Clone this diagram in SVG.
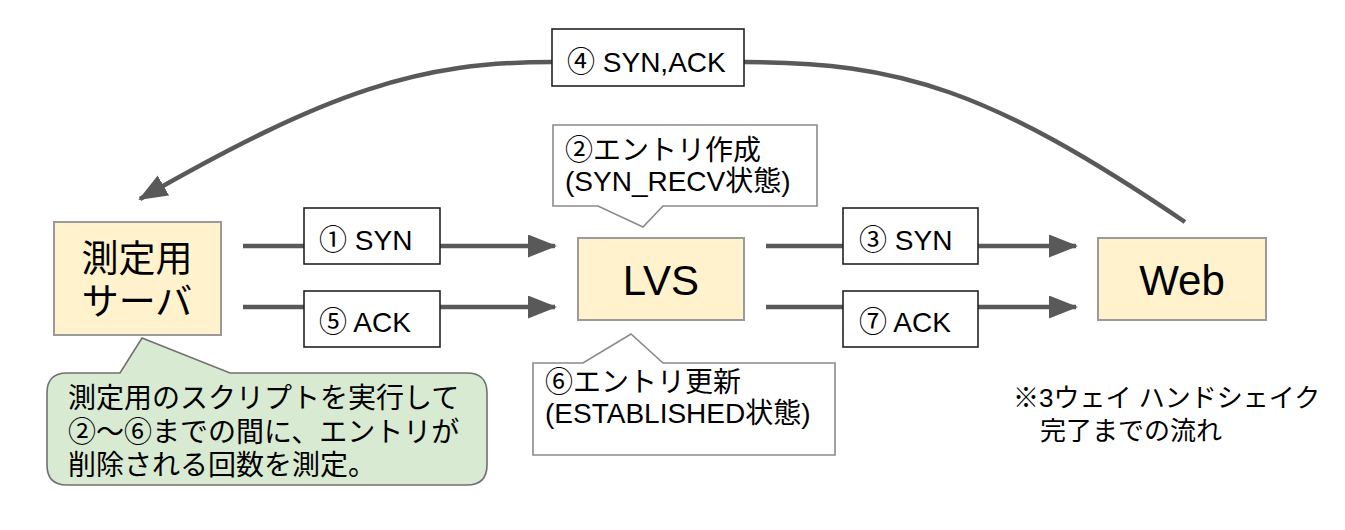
<svg xmlns="http://www.w3.org/2000/svg" width="1345" height="530" viewBox="0 0 1345 530">
<style>
text { font-family: "Liberation Sans", "Noto Sans CJK JP", sans-serif; fill: #000; }
.node { fill: #fff2cc; stroke: #9a9a9a; stroke-width: 2; }
.lbl { fill: #fff; stroke: #222; stroke-width: 1.6; }
.call { fill: #fff; stroke: #8a8a8a; stroke-width: 1.6; }
.green { fill: #d9ead3; stroke: #707070; stroke-width: 1.6; }
.conn { fill: none; stroke: #595959; stroke-width: 4.5; }
.t28 { font-size: 28px; }
.t26 { font-size: 26px; }
</style>
<defs>
<marker id="ah" markerUnits="userSpaceOnUse" markerWidth="30" markerHeight="24" refX="27" refY="11.5" orient="auto">
<path d="M0,0 L29,11.5 L0,23 z" fill="#595959"/>
</marker>
</defs>
<g id="connectors">
<path class="conn" d="M243,246 H555" marker-end="url(#ah)"/>
<path class="conn" d="M243,307 H555" marker-end="url(#ah)"/>
<path class="conn" d="M766,246 H1076" marker-end="url(#ah)"/>
<path class="conn" d="M766,307 H1076" marker-end="url(#ah)"/>
<path class="conn" d="M1185,222 C990,90 900,62 744,62"/>
<path class="conn" d="M552,62 C420,62 330,90 140,199" marker-end="url(#ah)"/>
</g>
<g id="label-4">
<rect class="lbl" x="552" y="29" width="192" height="57"/>
<text class="t28" x="567" y="72">④ SYN,ACK</text>
</g>
<g id="label-1">
<rect class="lbl" x="304" y="208" width="136" height="56"/>
<text class="t28" x="319" y="250">① SYN</text>
</g>
<g id="label-5">
<rect class="lbl" x="304" y="291" width="136" height="56"/>
<text class="t28" x="319" y="332">⑤ ACK</text>
</g>
<g id="label-3">
<rect class="lbl" x="843" y="208" width="135" height="56"/>
<text class="t28" x="859" y="250">③ SYN</text>
</g>
<g id="label-7">
<rect class="lbl" x="843" y="291" width="135" height="56"/>
<text class="t28" x="859" y="332">⑦ ACK</text>
</g>
<g id="server">
<rect class="node" x="54" y="222" width="167" height="113"/>
<text x="137" y="272" font-size="37" text-anchor="middle">測定用</text>
<text x="137" y="315" font-size="37" text-anchor="middle">サーバ</text>
</g>
<g id="lvs">
<rect class="node" x="578" y="238" width="166" height="82"/>
<text x="661" y="295" font-size="42" text-anchor="middle">LVS</text>
</g>
<g id="web">
<rect class="node" x="1098" y="238" width="168" height="82"/>
<text x="1182" y="295" font-size="42" text-anchor="middle">Web</text>
</g>
<g id="callout-2">
<path class="call" d="M553,125 H817 V206 H663 L643,227 L598,206 H553 Z"/>
<text class="t28" x="565" y="160">②エントリ作成</text>
<text class="t28" x="565" y="191">(SYN_RECV状態)</text>
</g>
<g id="callout-6">
<path class="call" d="M533,363 H583 L631,334 L663,363 H835 V455 H533 Z"/>
<text class="t28" x="545" y="392">⑥エントリ更新</text>
<text class="t28" x="545" y="423">(ESTABLISHED状態)</text>
</g>
<g id="callout-script">
<path class="green" d="M67,373 H120 L142,338 L230,373 H467 Q487,373 487,393 V465 Q487,485 467,485 H67 Q47,485 47,465 V393 Q47,373 67,373 Z"/>
<text class="t28" x="68" y="408">測定用のスクリプトを実行して</text>
<text class="t28" x="68" y="442">②〜⑥までの間に、エントリが</text>
<text class="t28" x="68" y="475">削除される回数を測定。</text>
</g>
<g id="note">
<text class="t26" x="1013" y="407">※3ウェイ ハンドシェイク</text>
<text class="t26" x="1040" y="440">完了までの流れ</text>
</g>
</svg>
